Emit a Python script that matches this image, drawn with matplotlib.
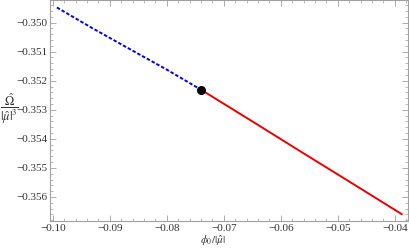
import numpy as np
import matplotlib
matplotlib.use("Agg")
import matplotlib.pyplot as plt
from matplotlib.ticker import MultipleLocator

blue_x = [-0.0993, -0.0930, -0.0867, -0.0800, -0.0740]
blue_y = [-0.34948, -0.35020, -0.35089, -0.35162, -0.35231]
red_x = [-0.0740, -0.0650, -0.0560, -0.0470, -0.0388]
red_y = [-0.35231, -0.35340, -0.35450, -0.35559, -0.35659]
dot_x = [-0.0740]
dot_y = [-0.35231]

plt.rcParams['font.family'] = ['Liberation Serif', 'DejaVu Serif']
plt.rcParams['mathtext.fontset'] = 'stix'

fig = plt.figure(figsize=(4.10, 2.49), dpi=100)
ax = fig.add_axes([0.122, 0.112, 0.873, 0.886])

ax.plot(blue_x, blue_y, color='#0000ee', lw=1.4, dashes=(1.8, 1.0))
ax.plot(red_x, red_y, color='#ee0000', lw=1.4)
ax.plot(dot_x, dot_y, 'o', color='black', ms=5.5, zorder=5)

ax.set_xlim(-0.1005, -0.0377)
ax.set_ylim(-0.35683, -0.34924)

ax.xaxis.set_major_locator(MultipleLocator(0.01))
ax.xaxis.set_minor_locator(MultipleLocator(0.002))
ax.yaxis.set_major_locator(MultipleLocator(0.001))
ax.yaxis.set_minor_locator(MultipleLocator(0.0002))
ax.xaxis.set_major_formatter(plt.FuncFormatter(lambda v, p: f"{v:.2f}".replace('-', '\u2212')))
ax.yaxis.set_major_formatter(plt.FuncFormatter(lambda v, p: f"{v:.3f}".replace('-', '\u2212')))

for s in ax.spines.values():
    s.set_color('#a0a0a0')
    s.set_linewidth(0.8)
ax.tick_params(which='both', direction='in', top=True, right=True, color='#a0a0a0',
               labelsize=8, labelcolor='#333333')
ax.tick_params(which='major', length=4, width=0.6, pad=2)
ax.tick_params(which='minor', length=2, width=0.5)

fig.text(0.52, 0.005, r'$\phi_0/|\hat{\mu}|$', fontsize=8, color='#333333',
         ha='center', va='bottom')
fig.text(0.024, 0.565, r'$\dfrac{\hat{\Omega}}{|\hat{\mu}|^3}$', fontsize=9,
         color='#333333', ha='center', va='center')

fig.savefig('out.png', dpi=100)
